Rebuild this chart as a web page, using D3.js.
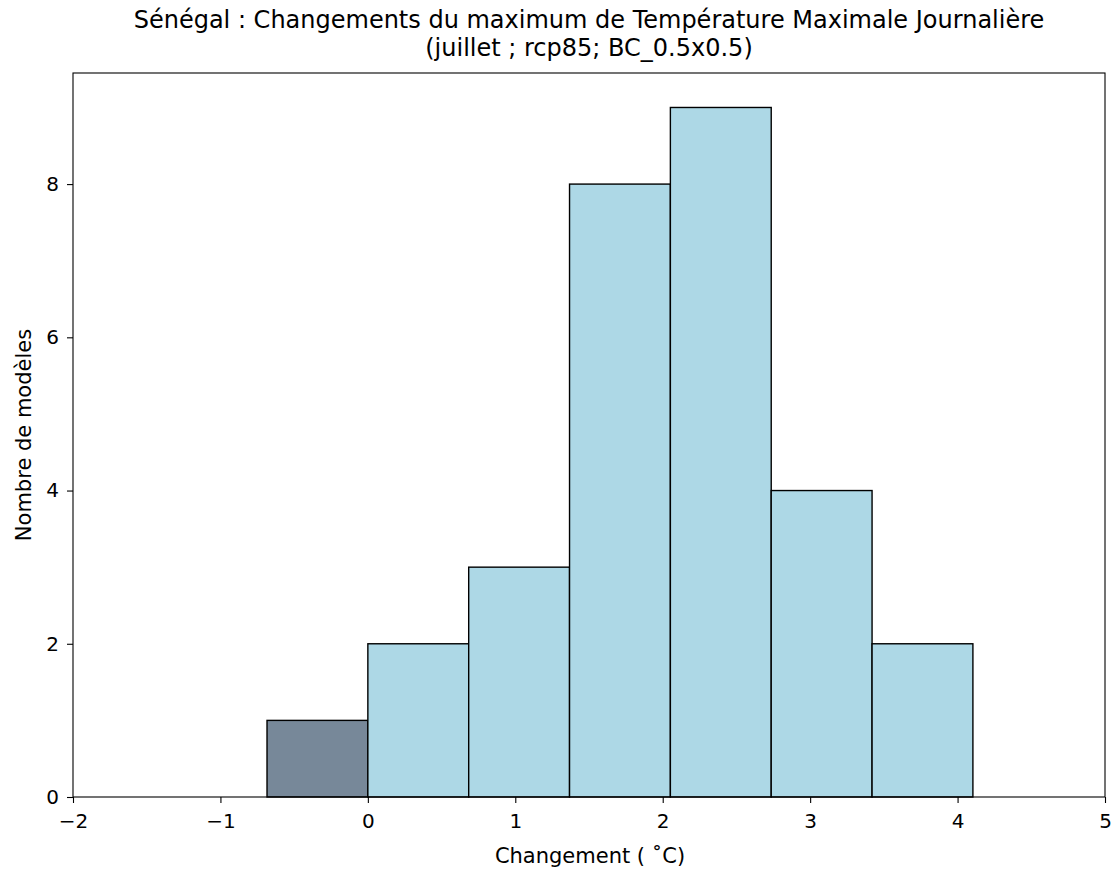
<!DOCTYPE html>
<html><head><meta charset="utf-8">
<script src="https://d3js.org/d3.v7.min.js"></script>
<style>body{margin:0;background:#fff}svg{display:block}text{font-family:"DejaVu Sans",sans-serif;fill:#000}</style>
</head><body><svg id="c" width="1114" height="869"></svg>
<script>
const binStarts = [-0.684, 0, 0.684, 1.368, 2.052, 2.736, 3.42];
const binEnds   = [0, 0.684, 1.368, 2.052, 2.736, 3.42, 4.104];
const counts    = [1, 2, 3, 8, 9, 4, 2];
const colors    = ["#778899", "#add8e6", "#add8e6", "#add8e6", "#add8e6", "#add8e6", "#add8e6"];
const xTicks = [-2, -1, 0, 1, 2, 3, 4, 5];
const yTicks = [0, 2, 4, 6, 8];
const titleLines = ["Sénégal : Changements du maximum de Température Maximale Journalière", "(juillet ; rcp85; BC_0.5x0.5)"];
const xLabel = "Changement ( ˚C)";
const yLabel = "Nombre de modèles";

const L = 73, R = 1105, T = 73, B = 797;
const svg = d3.select("#c");
const x = d3.scaleLinear().domain([-2, 5]).range([L, R]);
const y = d3.scaleLinear().domain([0, 9.45]).range([B, T]);

const bins = counts.map((c, i) => ({x0: binStarts[i], x1: binEnds[i], c, col: colors[i]}));
svg.append("g").selectAll("rect").data(bins).join("rect")
  .attr("x", d => x(d.x0)).attr("width", d => x(d.x1) - x(d.x0))
  .attr("y", d => y(d.c)).attr("height", d => y(0) - y(d.c))
  .attr("fill", d => d.col).attr("stroke", "#000").attr("stroke-width", 1.4);

const xa = svg.append("g").attr("transform", `translate(0,${B})`)
  .call(d3.axisBottom(x).tickValues(xTicks).tickSize(6).tickPadding(11).tickFormat(d => d < 0 ? "\u2212" + Math.abs(d) : d));
const ya = svg.append("g").attr("transform", `translate(${L},0)`)
  .call(d3.axisLeft(y).tickValues(yTicks).tickSize(6).tickPadding(8));
[xa, ya].forEach(a => {
  a.select(".domain").remove();
  a.selectAll("line").attr("stroke", "#000").attr("stroke-width", 1.1);
  a.selectAll("text").style("font-size", "20px").attr("font-family", "DejaVu Sans").attr("fill", "#000");
});
svg.append("rect").attr("x", L).attr("y", T).attr("width", R - L).attr("height", B - T)
  .attr("fill", "none").attr("stroke", "#000").attr("stroke-width", 1.1);

svg.append("text").attr("x", (L + R) / 2 + 1).attr("y", 863).attr("text-anchor", "middle")
  .style("font-size", "21px").text(xLabel);
svg.append("text").attr("transform", `translate(31,${(T + B) / 2}) rotate(-90)`).attr("text-anchor", "middle")
  .style("font-size", "21px").text(yLabel);
titleLines.forEach((t, i) => svg.append("text").attr("x", (L + R) / 2).attr("y", 28 + i * 28)
  .attr("text-anchor", "middle").style("font-size", "24px").text(t));
</script></body></html>
